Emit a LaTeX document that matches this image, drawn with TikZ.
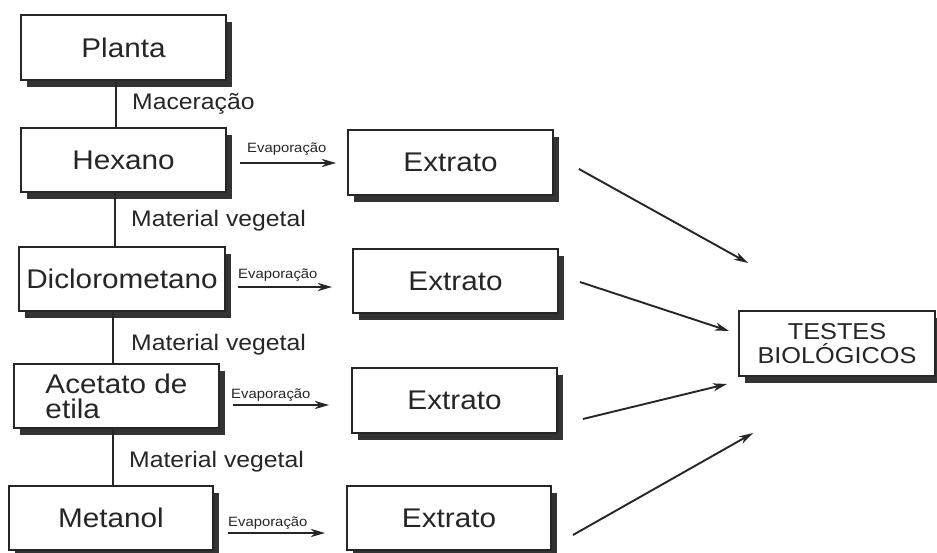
\documentclass[tikz,border=0pt]{standalone}
\usepackage{fontspec}
\setmainfont{Liberation Sans}[FakeStretch=1.1]
\usetikzlibrary{arrows.meta,shadows,calc}
\definecolor{ink}{HTML}{262626}
\definecolor{shade}{HTML}{333333}
\begin{document}
\begin{tikzpicture}[x=1pt,y=-1pt,
  box/.style={draw=ink, line width=1.9pt, fill=white, minimum width=205pt, minimum height=64pt,
    inner sep=0pt, font=\fontsize{27}{25}\selectfont, text=ink,
    drop shadow={shadow xshift=6pt, shadow yshift=-7pt, fill=shade, opacity=1}},
  lbl/.style={font=\fontsize{22.5}{26}\selectfont, text=ink, anchor=base west, inner sep=0pt},
  ev/.style={font=\fontsize{13.5}{16}\selectfont, text=ink, anchor=base west, inner sep=0pt},
  conn/.style={draw=ink, line width=1.9pt},
  arr/.style={conn, -{Stealth[length=14pt,width=8pt,inset=4pt]}}]
\useasboundingbox (0,0) rectangle (937,553);
\clip (0,0) rectangle (937,553);
\fill[white] (0,0) rectangle (937,553);

% left column
\node[box, minimum height=65pt] (planta) at (123.5,47.5) {Planta};
\node[box] (hexano) at (123.5,160) {Hexano};
\node[box, minimum width=206pt] (diclo) at (122,279) {Diclorometano};
\node[box, align=left] (acet) at (116.5,396) {Acetato de\\etila};
\node[box, minimum width=204pt] (meta) at (111,518) {Metanol};

% extracts
\node[box, minimum height=65pt] (e1) at (450.5,162.5) {Extrato};
\node[box] (e2) at (455.5,281) {Extrato};
\node[box, minimum height=65pt] (e3) at (454.5,400.5) {Extrato};
\node[box, minimum width=204pt] (e4) at (449,518) {Extrato};

% tests
\node[box, minimum width=196pt, minimum height=65pt, align=center,
  font=\fontsize{23}{23.5}\selectfont] (testes) at (837,343.5) {TESTES\\BIOLÓGICOS};

% vertical connectors
\draw[conn] (planta.south -| 116,0) -- (hexano.north -| 116,0);
\draw[conn] (hexano.south -| 115,0) -- (diclo.north -| 115,0);
\draw[conn] (diclo.south -| 113,0) -- (acet.north -| 113,0);
\draw[conn] (acet.south -| 113,0) -- (meta.north -| 113,0);

% vertical labels
\node[lbl] (l1) at (132,110) {Maceração};
\node[lbl] (l2) at (131,227) {Material vegetal};
\node[lbl] (l3) at (131,350) {Material vegetal};
\node[lbl] (l4) at (129,467) {Material vegetal};

% evaporation arrows
\draw[arr] ($(hexano.east |- 0,163)+(13,0)$) -- ($(e1.west |- 0,163)+(-11,0)$);
\draw[arr] ($(diclo.east |- 0,287)+(12,0)$) -- ($(e2.west |- 0,287)+(-20,0)$);
\draw[arr] ($(acet.east |- 0,405)+(13,0)$) -- ($(e3.west |- 0,405)+(-22,0)$);
\draw[arr] ($(meta.east |- 0,533)+(14,0)$) -- ($(e4.west |- 0,533)+(-21,0)$);
\node[ev] (v1) at (247,153) {Evaporação};
\node[ev] (v2) at (238,279) {Evaporação};
\node[ev] (v3) at (231,398) {Evaporação};
\node[ev] (v4) at (228,526) {Evaporação};

% arrows to tests
\coordinate (t1) at ($(testes.west)+(10,-80.5)$);
\coordinate (t2) at ($(testes.west)+(-9,-12.5)$);
\coordinate (t3) at ($(testes.west)+(-11,40.5)$);
\coordinate (t4) at ($(testes.west)+(15,89.5)$);
\draw[arr] ($(e1.east)+(25,6.5)$) -- (t1);
\draw[arr] ($(e2.east)+(21,1)$) -- (t2);
\draw[arr] ($(e3.east)+(25,18.5)$) -- (t3);
\draw[arr] ($(e4.east)+(21,17)$) -- (t4);
\end{tikzpicture}
\end{document}
